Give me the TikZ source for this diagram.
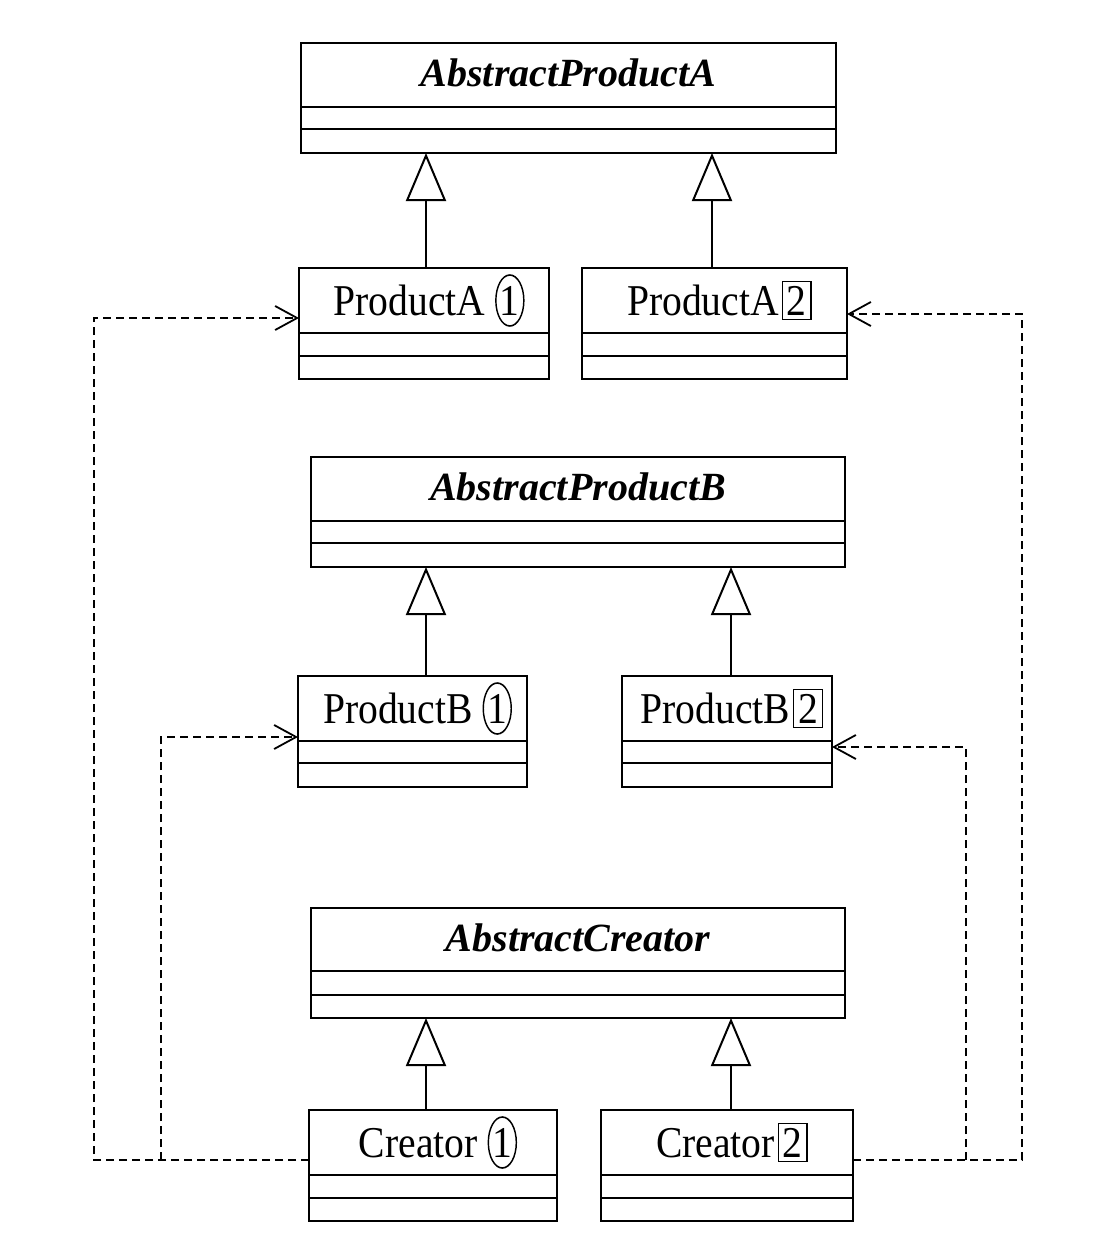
\documentclass[tikz,border=0pt]{standalone}
\usepackage{fontspec}
\setmainfont{Liberation Serif}
\usepackage{graphicx}
\usetikzlibrary{arrows.meta,shapes.geometric}

\newcommand\circnum[1]{\tikz[baseline=(n.base)]\node[draw,ellipse,line width=1.6pt,inner xsep=0pt,inner ysep=3.5pt,outer sep=0pt](n){#1};}
\newcommand\boxnum[1]{\hspace{3pt}\tikz[baseline=(n.base)]\node[draw,rectangle,line width=1.6pt,inner xsep=5pt,inner ysep=4.5pt,outer sep=0pt](n){#1};}
\newcommand\cname[1]{\scalebox{0.9}[1]{#1}}

\newcommand\umlclass[9]{%
  \node[classbox,minimum width={#4-#2},minimum height={#5-#3},anchor=north west] (#1) at (#2,#3) {};
  \draw[classline] (#2,#6) -- (#4,#6);
  \draw[classline] (#2,#7) -- (#4,#7);
  \node[#9] (#1-name) at ({(#2+#4)/2},{(#3+#6)/2}) {#8};
}

\tikzset{
  classbox/.style={draw,line width=2pt,inner sep=0pt,outer sep=0pt},
  classline/.style={line width=2pt},
  titletext/.style={font=\fontsize{40}{48}\selectfont\bfseries\itshape,inner sep=0pt,yshift=2pt},
  nametext/.style={font=\fontsize{44}{52}\selectfont,inner sep=0pt,xshift=5pt},
  gen/.style={line width=2pt,-{Triangle[open,length=48pt,width=40pt]}},
  dep/.style={line width=1.8pt,dash pattern=on 8pt off 5pt,-{Straight Barb[length=22pt,width=24pt]}},
}

\begin{document}
\begin{tikzpicture}[x=1pt,y=-1pt]
\useasboundingbox (0,0) rectangle (1116,1250);

\umlclass{apa}{301}{43}{836}{153}{107}{129}{AbstractProductA}{titletext}
\umlclass{pa1}{299}{268}{549}{379}{333}{356}{\cname{ProductA \circnum{1}}}{nametext}
\umlclass{pa2}{582}{268}{847}{379}{333}{356}{\cname{ProductA\boxnum{2}}}{nametext}

\umlclass{apb}{311}{457}{845}{567}{521}{543}{AbstractProductB}{titletext}
\umlclass{pb1}{298}{676}{527}{787}{741}{763}{\cname{ProductB \circnum{1}}}{nametext}
\umlclass{pb2}{622}{676}{832}{787}{741}{763}{\cname{ProductB\boxnum{2}}}{nametext}

\umlclass{ac}{311}{908}{845}{1018}{971}{995}{AbstractCreator}{titletext}
\umlclass{c1}{309}{1110}{557}{1221}{1175}{1198}{\cname{Creator \circnum{1}}}{nametext}
\umlclass{c2}{601}{1110}{853}{1221}{1175}{1198}{\cname{Creator\boxnum{2}}}{nametext}

% generalization x positions
\coordinate (gA1) at (426,0);
\coordinate (gA2) at (712,0);
\coordinate (gB1) at (426,0);
\coordinate (gB2) at (731,0);

\draw[gen] (pa1.north -| gA1) -- (apa.south -| gA1);
\draw[gen] (pa2.north -| gA2) -- (apa.south -| gA2);
\draw[gen] (pb1.north -| gB1) -- (apb.south -| gB1);
\draw[gen] (pb2.north -| gB2) -- (apb.south -| gB2);
\draw[gen] (c1.north -| gB1) -- (ac.south -| gB1);
\draw[gen] (c2.north -| gB2) -- (ac.south -| gB2);

% dependency routing
\coordinate (L1) at (94,0);
\coordinate (L2) at (161,0);
\coordinate (R1) at (1022,0);
\coordinate (R2) at (966,0);
\coordinate (ya) at (0,318);
\coordinate (yb) at (0,737);
\coordinate (ya2) at (0,314);
\coordinate (yb2) at (0,747);
\coordinate (yc) at (0,1160);
\coordinate (jl) at (L2 |- yc);
\coordinate (jr) at (R2 |- yc);

\draw[dep] (c1.west |- yc) -- (L1 |- yc) -- (L1 |- ya) -- (pa1.west |- ya);
\draw[dep] (jl) -- (L2 |- yb) -- (pb1.west |- yb);
\draw[dep] (c2.east |- yc) -- (R1 |- yc) -- (R1 |- ya2) -- (pa2.east |- ya2);
\draw[dep] (jr) -- (R2 |- yb2) -- (pb2.east |- yb2);
\end{tikzpicture}
\end{document}
